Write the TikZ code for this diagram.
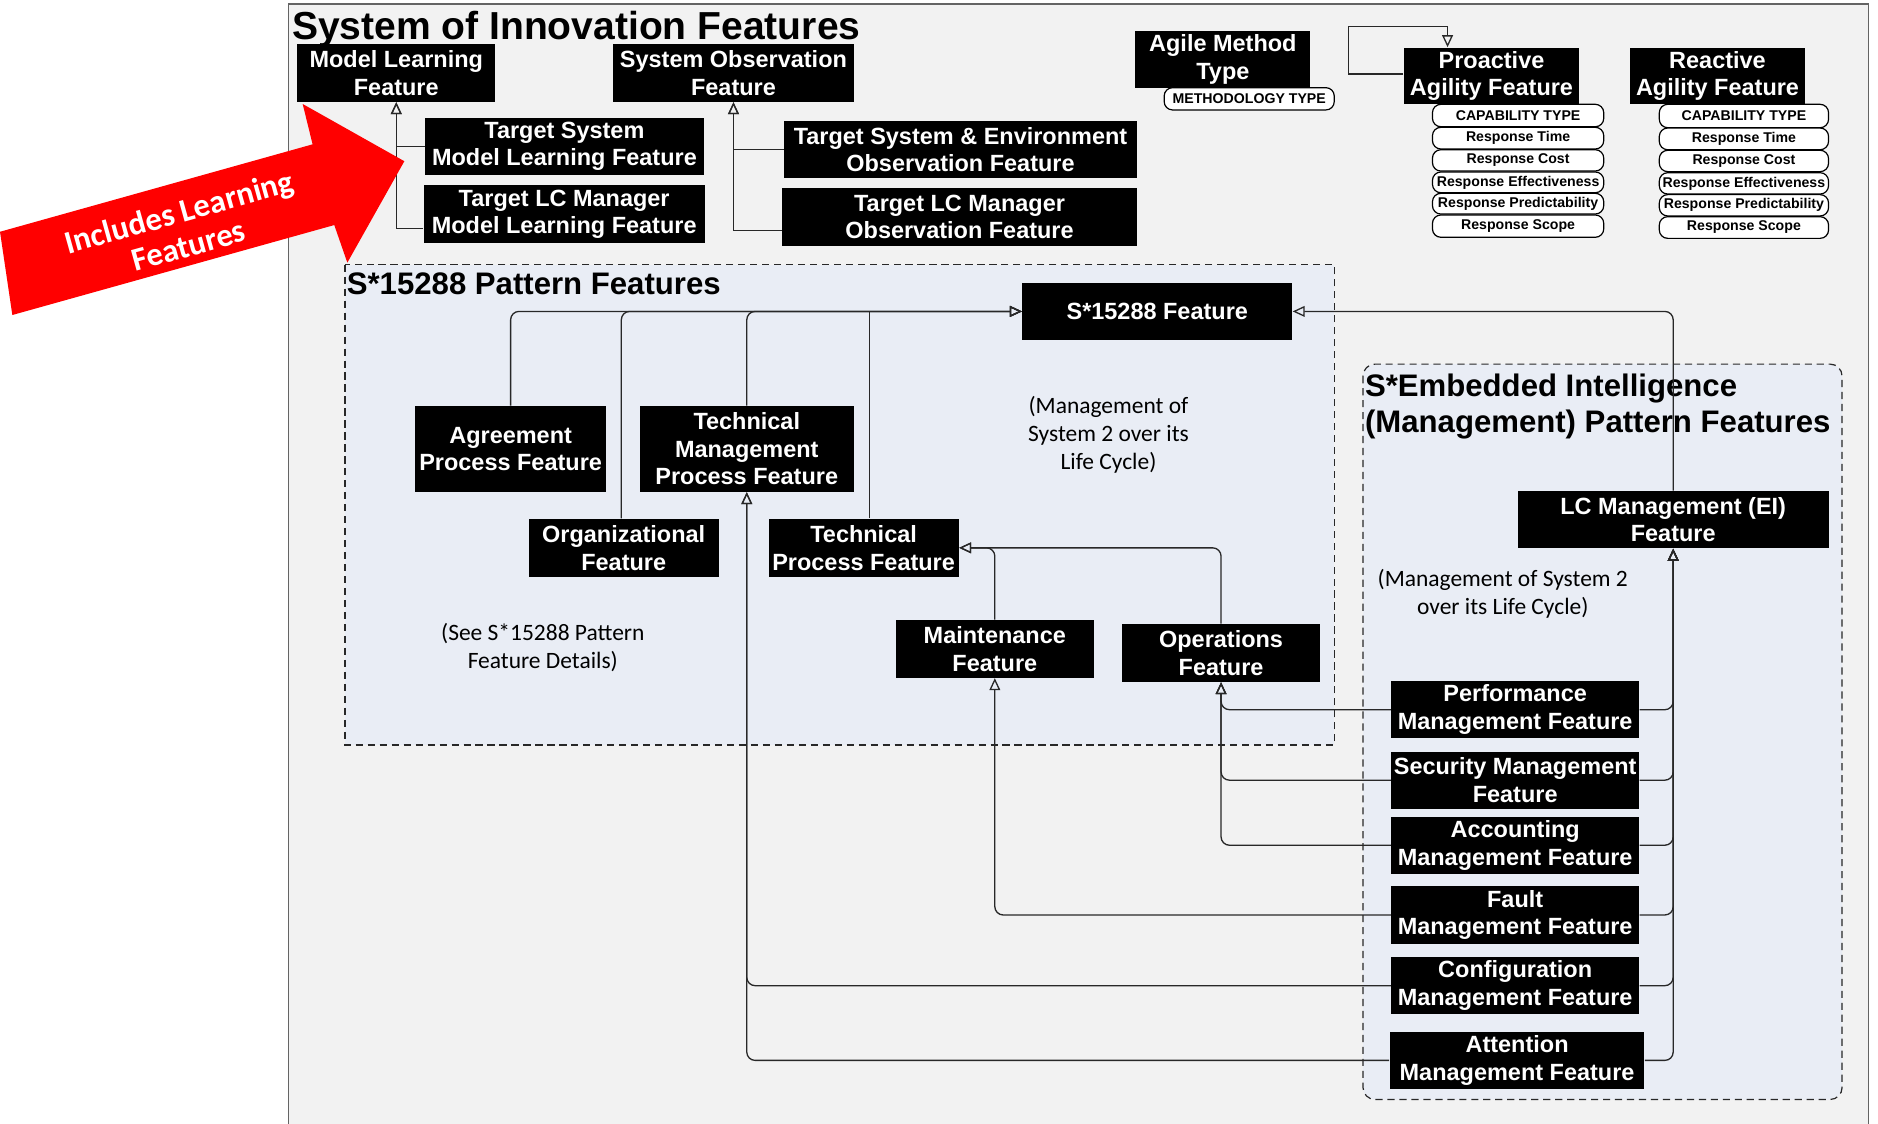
\documentclass[tikz,border=0pt]{standalone}
\usepackage{fontspec}
\setmainfont{Liberation Sans}
\newfontfamily\calfont{Carlito}
\usetikzlibrary{arrows.meta,calc}
\definecolor{framefill}{RGB}{242,242,242}
\definecolor{framedraw}{RGB}{100,100,100}
\definecolor{groupfill}{RGB}{233,237,245}
\definecolor{linecol}{RGB}{40,40,40}
\definecolor{arrowred}{RGB}{255,0,0}

% feature box given by its corners: name, x1, y1, x2, y2, text
\newcommand\featbox[6]{\node[featurebox, minimum width={(#4-#2)*0.5pt}, minimum height={(#5-#3)*0.5pt}] (#1) at ({(#2+#4)/2},{(#3+#5)/2}) {#6};}
% attribute pill given by its corners
\newcommand\attrpill[6]{\node[attrbox, minimum width={(#4-#2)*0.5pt}, minimum height={(#5-#3)*0.5pt}] (#1) at ({(#2+#4)/2},{(#3+#5)/2}) {#6};}

\begin{document}
\begin{tikzpicture}[x=0.5pt,y=-0.5pt,
  featurebox/.style={fill=black, text=white, font=\bfseries\fontsize{9.8}{11.5}\selectfont, align=center, inner sep=0pt},
  attrbox/.style={fill=white, draw=black, line width=0.5pt, rounded corners=3.5pt, font=\bfseries\fontsize{5.9}{7}\selectfont, inner sep=0pt},
  gen/.style={draw=linecol, line width=0.55pt, -{Triangle[open, length=5pt, width=4.5pt]}},
  genr/.style={gen, rounded corners=3.5pt},
  grouptitle/.style={font=\bfseries\fontsize{13}{15.3}\selectfont, inner sep=0pt, align=left},
  note/.style={font=\calfont\fontsize{9.8}{11.75}\selectfont, align=center, inner sep=0pt},
  group/.style={draw=linecol, dash pattern=on 3pt off 2pt, line width=0.5pt, fill=groupfill}
]
\useasboundingbox (0,0) rectangle (1568,938);
\clip (0,0) rectangle (1568,938);

% outer frame
\draw[draw=framedraw, fill=framefill, line width=0.6pt] (241,3.5) rectangle (1560,960);

% pattern groups
\draw[group] (288,221) rectangle (1114,622);
\draw[group, rounded corners=5pt] (1138,304) rectangle (1538,918);

% titles
\node[anchor=west, font=\bfseries\fontsize{16.3}{19}\selectfont, inner sep=0pt] (maintitle) at (243.4,24.4) {System of Innovation Features};
\node[grouptitle, anchor=west] (s15title) at (289.2,237.2) {S*15288 Pattern Features};
\node[grouptitle, anchor=north west] (eititle) at (1139.3,311.5) {S*Embedded Intelligence\\(Management) Pattern Features};

% notes
\node[note] (note1) at (925.5,362.9) {(Management of\\System 2 over its\\Life Cycle)};
\node[note] (note2) at (453.2,540.6) {(See S*15288 Pattern\\Feature Details)};
\node[note] (note3) at (1254.7,496) {(Management of System 2\\over its Life Cycle)};

% learning and observation features
\featbox{mlf}{248.2}{37}{413.5}{84.9}{Model Learning\\Feature}
\featbox{sof}{511.8}{37}{713}{84.9}{System Observation\\Feature}
\featbox{tsml}{355}{98.3}{587.5}{146.1}{Target System\\Model Learning Feature}
\featbox{tlcml}{353.6}{154.7}{588.5}{203.2}{Target LC Manager\\Model Learning Feature}
\featbox{tseo}{654.6}{100.8}{949.3}{148.9}{Target System \& Environment\\Observation Feature}
\featbox{tlco}{653}{157}{949.3}{205.5}{Target LC Manager\\Observation Feature}

% agility features
\featbox{amt}{948}{25.6}{1094}{73.2}{Agile Method\\Type}
\attrpill{mtype}{972}{73.2}{1114}{91.8}{METHODOLOGY TYPE}
\featbox{paf}{1172}{39.8}{1318.6}{87}{Proactive\\Agility Feature}
\featbox{raf}{1361}{39.8}{1507}{87}{Reactive\\Agility Feature}

\attrpill{pc1}{1196}{87.1}{1339}{105.8}{CAPABILITY TYPE}
\attrpill{pc2}{1196}{106.3}{1339}{124.4}{Response Time}
\attrpill{pc3}{1196}{125}{1339}{142.8}{Response Cost}
\attrpill{pc4}{1196}{143.6}{1339}{160.9}{Response Effectiveness}
\attrpill{pc5}{1196}{161.4}{1339}{178.7}{Response Predictability}
\attrpill{pc6}{1196}{179.5}{1339}{198.1}{Response Scope}

\attrpill{rc1}{1385.4}{87.1}{1526.7}{106.6}{CAPABILITY TYPE}
\attrpill{rc2}{1385.4}{106.9}{1526.7}{125}{Response Time}
\attrpill{rc3}{1385.4}{125.5}{1526.7}{143.3}{Response Cost}
\attrpill{rc4}{1385.4}{144.2}{1526.7}{162}{Response Effectiveness}
\attrpill{rc5}{1385.4}{162.5}{1526.7}{180.3}{Response Predictability}
\attrpill{rc6}{1385.4}{180.9}{1526.7}{199}{Response Scope}

% S*15288 pattern features
\featbox{s15}{853.6}{236}{1078.9}{284}{S*15288 Feature}
\featbox{apf}{346.7}{339}{506}{410.5}{Agreement\\Process Feature}
\featbox{tmpf}{534}{339}{713}{410.5}{Technical\\Management\\Process Feature}
\featbox{orgf}{441.5}{433.3}{600}{481.5}{Organizational\\Feature}
\featbox{tpf}{641.7}{433.3}{800.4}{481.5}{Technical\\Process Feature}
\featbox{mntf}{748}{517.7}{913.2}{565.8}{Maintenance\\Feature}
\featbox{opsf}{936.7}{521}{1102.3}{569.2}{Operations\\Feature}

% embedded intelligence features
\featbox{lcm}{1267}{410}{1527}{457.8}{LC Management (EI)\\Feature}
\featbox{perf}{1161.6}{568.6}{1368.5}{616.5}{Performance\\Management Feature}
\featbox{secf}{1161.6}{627.6}{1368.5}{675.2}{Security Management\\Feature}
\featbox{accf}{1161.6}{681.9}{1368.5}{729.5}{Accounting\\Management Feature}
\featbox{fltf}{1161.6}{740}{1368.5}{787.9}{Fault\\Management Feature}
\featbox{cfgf}{1161.6}{799}{1368.5}{846.9}{Configuration\\Management Feature}
\featbox{attf}{1160.3}{861.4}{1373}{909.3}{Attention\\Management Feature}

% generalisation links, upper area
\draw[gen] (tsml.west) -| (mlf.south);
\draw[gen] ($(tlcml.west)+(0,11.7)$) -| (mlf.south);
\draw[gen] (tseo.west) -| (sof.south);
\draw[gen] ($(tlco.west)+(0,11.4)$) -| (sof.south);
\coordinate (loopcorner) at (1126,22);
\draw[gen] ($(paf.west)+(0,-1.5)$) -| (loopcorner) -| ($(paf.north west)+(37,0)$);

% generalisation links into S*15288 Feature
\draw[genr] (apf.north) |- (s15.west);
\draw[genr] ($(orgf.north)+(-2,0)$) |- (s15.west);
\draw[genr] (tmpf.north) |- (s15.west);
\draw[gen] ($(tpf.north)+(4.8,0)$) |- (s15.west);
\draw[genr] (lcm.north) |- (s15.east);
\draw[genr] (mntf.north) |- (tpf.east);
\draw[genr] (opsf.north) |- (tpf.east);

% management features to their process features
\draw[genr] (perf.west) -| (opsf.south);
\draw[genr] (secf.west) -| (opsf.south);
\draw[genr] (accf.west) -| (opsf.south);
\draw[genr] (fltf.west) -| (mntf.south);
\draw[genr] (cfgf.west) -| (tmpf.south);
\draw[genr] (attf.west) -| (tmpf.south);

% management features to LC Management (EI)
\draw[genr] (perf.east) -| (lcm.south);
\draw[genr] (secf.east) -| (lcm.south);
\draw[genr] (accf.east) -| (lcm.south);
\draw[genr] (fltf.east) -| (lcm.south);
\draw[genr] (cfgf.east) -| (lcm.south);
\draw[genr] (attf.east) -| (lcm.south);

% callout arrow
\fill[arrowred] (0,193.5) -- (261,120.5) -- (252.7,86.8) -- (337.6,134.6) -- (290,219.3) -- (279.1,187.9) -- (10.3,263) -- cycle;
\node[font=\calfont\bfseries\fontsize{13.6}{14.5}\selectfont, text=white, align=center, rotate=15.6, inner sep=0pt] (learnnote) at (153.4,190.7) {Includes Learning\\Features};
\end{tikzpicture}
\end{document}
